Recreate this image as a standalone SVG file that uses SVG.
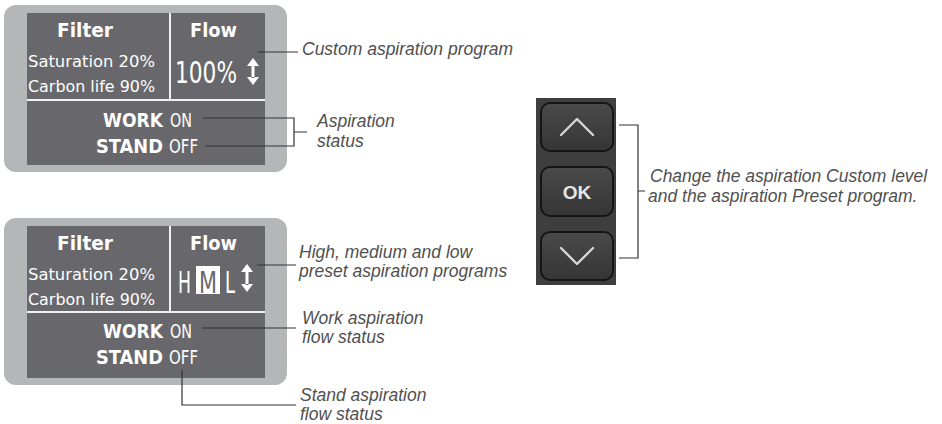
<svg xmlns="http://www.w3.org/2000/svg" width="942" height="424" viewBox="0 0 942 424">
<style>
.outer{fill:#b5b6b8}
.lcd{fill:#68686c}
.div{stroke:#f2f2f2;stroke-width:2;fill:none}
.t{font-family:"DejaVu Sans",sans-serif;fill:#ffffff}
.b{font-weight:bold}
.lab{font-family:"Liberation Sans",Arial,sans-serif;font-style:italic;font-size:17.5px;fill:#505050}
.ld{stroke:#333333;stroke-width:1.2;fill:none}
.btn{fill:url(#bg);stroke:#151515;stroke-width:2}
.chev{stroke:#d6d6d6;stroke-width:2.4;fill:none;stroke-linecap:round;stroke-linejoin:round}
.ar{fill:#ffffff}
</style>
<defs>
<linearGradient id="bg" x1="0" y1="0" x2="0" y2="1">
<stop offset="0" stop-color="#4a4a4a"/>
<stop offset="1" stop-color="#353535"/>
</linearGradient>
</defs>

<g id="panel-custom">
<rect class="outer" x="4" y="5" width="283" height="167" rx="12"/>
<rect class="lcd" x="27" y="13" width="238" height="152"/>
<path class="div" d="M170,13 V100 M27,100 H265"/>
<text class="t b" x="57" y="37" font-size="19" textLength="56" lengthAdjust="spacingAndGlyphs">Filter</text>
<text class="t b" x="190" y="37" font-size="19" textLength="47" lengthAdjust="spacingAndGlyphs">Flow</text>
<text class="t" x="28" y="67" font-size="16.5" textLength="127" lengthAdjust="spacingAndGlyphs">Saturation 20%</text>
<text class="t" x="28" y="92" font-size="16.5" textLength="127" lengthAdjust="spacingAndGlyphs">Carbon life 90%</text>
<text class="t" x="175" y="83" font-size="30" textLength="62" lengthAdjust="spacingAndGlyphs">100%</text>
<path class="ar" d="M247,66 L253,58 L259,66 Z M251.5,65 H254.5 V78 H251.5 Z M247,77 L253,85 L259,77 Z"/>
<text class="t b" x="103" y="127" font-size="19" textLength="60" lengthAdjust="spacingAndGlyphs">WORK</text>
<text class="t" x="170" y="127" font-size="19" textLength="22" lengthAdjust="spacingAndGlyphs">ON</text>
<text class="t b" x="96" y="153" font-size="19" textLength="67" lengthAdjust="spacingAndGlyphs">STAND</text>
<text class="t" x="169" y="153" font-size="19" textLength="29" lengthAdjust="spacingAndGlyphs">OFF</text>
</g>

<g id="panel-preset" transform="translate(0,213)">
<rect class="outer" x="4" y="5" width="283" height="167" rx="12"/>
<rect class="lcd" x="27" y="13" width="238" height="152"/>
<path class="div" d="M170,13 V99 M27,99 H265"/>
<text class="t b" x="57" y="37" font-size="19" textLength="56" lengthAdjust="spacingAndGlyphs">Filter</text>
<text class="t b" x="190" y="37" font-size="19" textLength="47" lengthAdjust="spacingAndGlyphs">Flow</text>
<text class="t" x="28" y="67" font-size="16.5" textLength="127" lengthAdjust="spacingAndGlyphs">Saturation 20%</text>
<text class="t" x="28" y="92" font-size="16.5" textLength="127" lengthAdjust="spacingAndGlyphs">Carbon life 90%</text>
<text class="t" x="178" y="80" font-size="31" textLength="13" lengthAdjust="spacingAndGlyphs">H</text>
<rect x="196" y="53" width="24" height="28" fill="#ffffff"/>
<text x="199" y="80" font-size="31" textLength="18" lengthAdjust="spacingAndGlyphs" font-family="DejaVu Sans,sans-serif" fill="#68686c">M</text>
<text class="t" x="225" y="80" font-size="31" textLength="10" lengthAdjust="spacingAndGlyphs">L</text>
<path class="ar" d="M241,59 L247,51 L253,59 Z M245.5,58 H248.5 V72 H245.5 Z M241,71 L247,79 L253,71 Z"/>
<text class="t b" x="103" y="125" font-size="19" textLength="60" lengthAdjust="spacingAndGlyphs">WORK</text>
<text class="t" x="170" y="125" font-size="19" textLength="22" lengthAdjust="spacingAndGlyphs">ON</text>
<text class="t b" x="96" y="151" font-size="19" textLength="67" lengthAdjust="spacingAndGlyphs">STAND</text>
<text class="t" x="169" y="151" font-size="19" textLength="29" lengthAdjust="spacingAndGlyphs">OFF</text>
</g>

<g id="keypad">
<rect x="536" y="98" width="80" height="187" fill="#3e3e3e"/>
<rect class="btn" x="541" y="103" width="72" height="48" rx="9"/>
<path class="chev" d="M561,135 L577,119 L593,135"/>
<rect class="btn" x="541" y="167" width="72" height="49" rx="9"/>
<text x="577" y="199" text-anchor="middle" font-family="Liberation Sans,Arial,sans-serif" font-weight="bold" font-size="19" fill="#e6e6e6">OK</text>
<rect class="btn" x="541" y="232" width="72" height="48" rx="9"/>
<path class="chev" d="M561,248 L577,264 L593,248"/>
</g>

<g id="labels">
<text class="lab" x="302" y="55">Custom aspiration program</text>
<text class="lab" x="317" y="127">Aspiration</text>
<text class="lab" x="317" y="147">status</text>
<text class="lab" x="299" y="258">High, medium and low</text>
<text class="lab" x="299" y="277">preset aspiration programs</text>
<text class="lab" x="302" y="324">Work aspiration</text>
<text class="lab" x="302" y="343">flow status</text>
<text class="lab" x="300" y="401">Stand aspiration</text>
<text class="lab" x="300" y="420">flow status</text>
<text class="lab" x="650" y="182">Change the aspiration Custom level</text>
<text class="lab" x="648" y="202">and the aspiration Preset program.</text>
</g>

<g id="connectors">
<path class="ld" d="M258,52 H298"/>
<path class="ld" d="M203,118 H294 V146 H205 M294,132 H307"/>
<path class="ld" d="M257,265 H296"/>
<path class="ld" d="M202,328 H296"/>
<path class="ld" d="M182,370 V405 H296"/>
<path class="ld" d="M619,125 H638 V258 H619 M638,191 H645"/>
</g>
</svg>
